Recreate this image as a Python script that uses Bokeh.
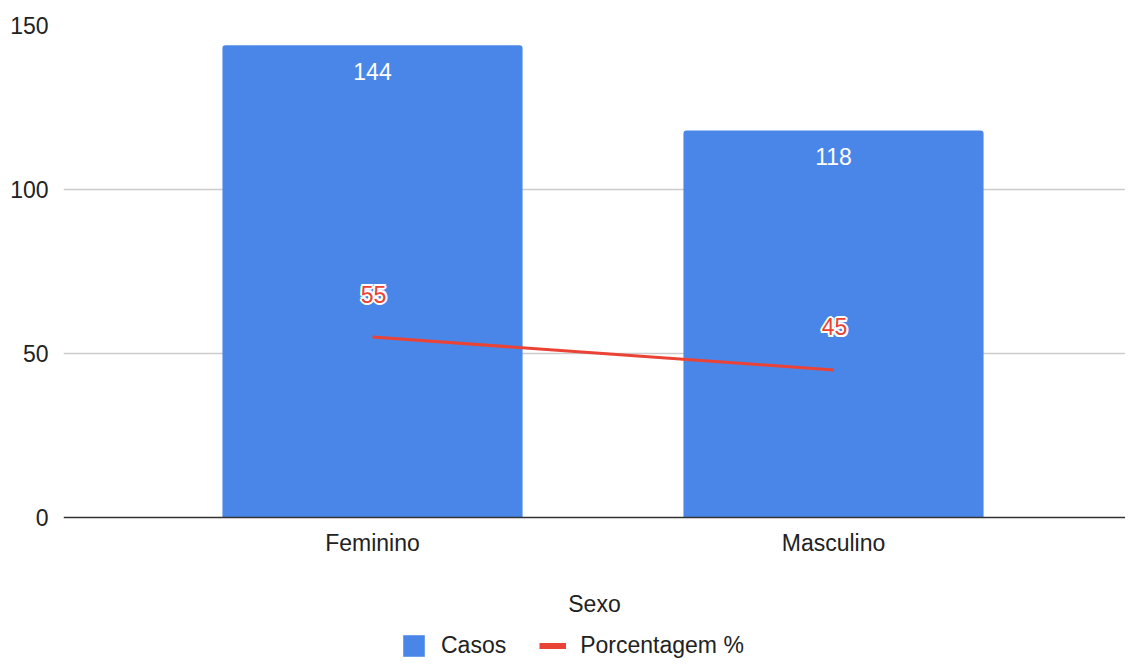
from bokeh.plotting import figure
from bokeh.models import Range1d, FixedTicker, Legend, LegendItem, ColumnDataSource
from bokeh.core.properties import value
from bokeh.embed import file_html
from bokeh.resources import INLINE

categories = ["Feminino", "Masculino"]
casos = [144, 118]
porcentagem = [55, 45]
y_ticks = [0, 50, 100, 150]

FONT = "Liberation Sans"
BLUE = "#4a86e8"
RED = "#ea4335"

xs = list(range(len(categories)))
src = ColumnDataSource(dict(x=xs, casos=casos, pct=porcentagem,
                            casos_txt=[str(v) for v in casos],
                            pct_txt=[str(v) for v in porcentagem]))

# frame spans down to the figure bottom so the legend can sit inside it
p = figure(width=1125, height=660, output_backend="svg", toolbar_location=None,
           x_range=Range1d(-0.6703, 1.6334), y_range=Range1d(-43.6, 150),
           min_border_left=63, min_border_right=0, min_border_top=25, min_border_bottom=0)
p.outline_line_color = None
p.background_fill_color = "white"

bars = p.vbar(x="x", top="casos", bottom=0, width=0.651, source=src, fill_color=BLUE,
              line_color=None, border_radius=(3, 3, 0, 0))
line = p.line(x="x", y="pct", source=src, line_color=RED, line_width=3)
# legend-only proxy (single point: draws nothing on the plot) with a thicker swatch
proxy = p.line(x=[porcentagem[0] * 0], y=[-100], line_color=RED, line_width=6)

p.text(x="x", y="casos", text="casos_txt", source=src, text_color="white",
       text_font=value(FONT), text_font_size="23px", text_align="center",
       text_baseline="middle", y_offset=26)

offs = [(-2, 0), (2, 0), (0, -2), (0, 2), (-1.5, -1.5), (1.5, -1.5), (-1.5, 1.5), (1.5, 1.5)]
for dx, dy in offs:
    p.text(x="x", y="pct", text="pct_txt", source=src, text_color="white",
           text_font=value(FONT), text_font_size="23px", text_align="center",
           text_baseline="middle", x_offset=1 + dx, y_offset=-43 + dy)
p.text(x="x", y="pct", text="pct_txt", source=src, text_color=RED,
       text_font=value(FONT), text_font_size="23px", text_align="center",
       text_baseline="middle", x_offset=1, y_offset=-43)

# x axis fixed at y = 0
p.xaxis.fixed_location = 0
p.xaxis.ticker = FixedTicker(ticks=xs)
p.xaxis.major_label_overrides = {i: c for i, c in enumerate(categories)}
p.xaxis.axis_line_color = "#333333"
p.xaxis.axis_line_width = 1.5
p.xaxis.major_tick_line_color = None
p.xaxis.minor_tick_line_color = None
p.xaxis.major_tick_out = 0
p.xaxis.major_label_standoff = 13
p.xaxis.major_label_text_font = FONT
p.xaxis.major_label_text_font_size = "23px"
p.xaxis.major_label_text_color = "#222222"
p.xaxis.axis_label = "Sexo"
p.xaxis.axis_label_text_font = FONT
p.xaxis.axis_label_text_font_size = "23px"
p.xaxis.axis_label_text_font_style = "normal"
p.xaxis.axis_label_text_color = "#222222"
p.xaxis.axis_label_standoff = 31

p.yaxis.ticker = FixedTicker(ticks=y_ticks)
p.yaxis.axis_line_color = None
p.yaxis.major_tick_line_color = None
p.yaxis.minor_tick_line_color = None
p.yaxis.major_tick_out = 0
p.yaxis.major_label_standoff = 15
p.yaxis.major_label_text_font = FONT
p.yaxis.major_label_text_font_size = "23px"
p.yaxis.major_label_text_color = "#222222"

p.xgrid.grid_line_color = None
p.ygrid.ticker = FixedTicker(ticks=y_ticks[1:])
p.ygrid.grid_line_color = "#cccccc"
p.ygrid.grid_line_width = 1.5

legend = Legend(items=[LegendItem(label="Casos", renderers=[bars], index=0),
                       LegendItem(label="Porcentagem %", renderers=[proxy], index=0)],
                orientation="horizontal", location=(337, 1),
                glyph_width=27, glyph_height=27, label_standoff=14, spacing=33,
                label_text_font=FONT, label_text_font_size="23px",
                label_text_color="#222222", padding=0, margin=0,
                border_line_color=None, background_fill_alpha=0)
p.add_layout(legend, "center")

open("out.html", "w").write(file_html(p, INLINE))
